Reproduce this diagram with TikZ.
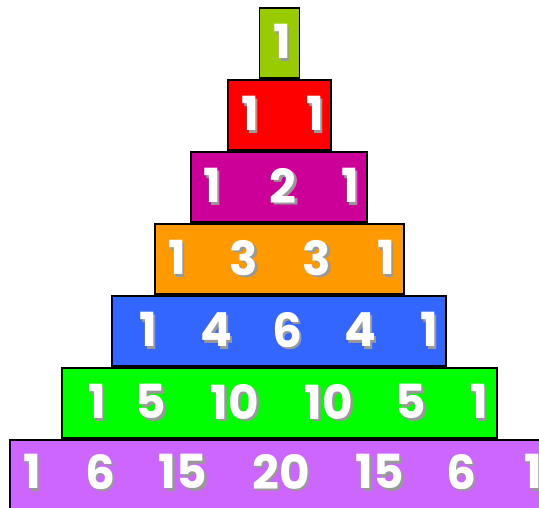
\documentclass[tikz,border=0pt]{standalone}
\usepackage{fontspec}
\setmainfont{Poppins}
\usepackage{xcolor}
\usepackage{tikz}
\definecolor{rowlime}{HTML}{99CC00}
\definecolor{rowred}{HTML}{FF0000}
\definecolor{rowmagenta}{HTML}{CC0099}
\definecolor{roworange}{HTML}{FF9900}
\definecolor{rowblue}{HTML}{3366FF}
\definecolor{rowgreen}{HTML}{00FF00}
\definecolor{rowviolet}{HTML}{CC66FF}
\definecolor{numshadow}{HTML}{999999}
\newcommand{\shadednum}[1]{\makebox[0pt][l]{\hspace{2.5pt}\raisebox{-2.5pt}{\textcolor{numshadow}{#1}}}\textcolor{white}{#1}}

\begin{document}
\begin{tikzpicture}[
  x=1pt,y=-1pt,
  row/.style={draw=black,line width=1.6pt,minimum height=70pt,inner sep=0pt},
  num/.style={font=\fontsize{47}{47}\selectfont\bfseries,inner sep=0pt}
]
\useasboundingbox (0,0) rectangle (539,508);
% rows of the triangle
\node[row,fill=rowlime,minimum width=40pt] (r0) at (279.5,43) {};
\node[row,fill=rowred,minimum width=103pt] (r1) at (279.5,115) {};
\node[row,fill=rowmagenta,minimum width=176pt] (r2) at (279,187) {};
\node[row,fill=roworange,minimum width=249pt] (r3) at (279.5,259) {};
\node[row,fill=rowblue,minimum width=334pt] (r4) at (279,331) {};
\node[row,fill=rowgreen,minimum width=435pt] (r5) at (279.5,403) {};
\node[row,fill=rowviolet,minimum width=540pt] (r6) at (280,475) {};
% row 0
\node[num] (n00) at (282,43) {\shadednum{1}};
% row 1
\node[num] (n10) at (250,115) {\shadednum{1}};
\node[num] (n11) at (315,115) {\shadednum{1}};
% row 2
\node[num] (n20) at (212,187) {\shadednum{1}};
\node[num] (n21) at (283,187) {\shadednum{2}};
\node[num] (n22) at (350,187) {\shadednum{1}};
% row 3
\node[num] (n30) at (177,259) {\shadednum{1}};
\node[num] (n31) at (244,259) {\shadednum{3}};
\node[num] (n32) at (317,259) {\shadednum{3}};
\node[num] (n33) at (386,259) {\shadednum{1}};
% row 4
\node[num] (n40) at (148,331) {\shadednum{1}};
\node[num] (n41) at (216,331) {\shadednum{4}};
\node[num] (n42) at (287,331) {\shadednum{6}};
\node[num] (n43) at (360,331) {\shadednum{4}};
\node[num] (n44) at (429,331) {\shadednum{1}};
% row 5
\node[num] (n50) at (97,403) {\shadednum{1}};
\node[num] (n51) at (151,403) {\shadednum{5}};
\node[num] (n52) at (235,403) {\shadednum{10}};
\node[num] (n53) at (329,403) {\shadednum{10}};
\node[num] (n54) at (411,403) {\shadednum{5}};
\node[num] (n55) at (479,403) {\shadednum{1}};
% row 6
\node[num] (n60) at (32,473) {\shadednum{1}};
\node[num] (n61) at (100,473) {\shadednum{6}};
\node[num] (n62) at (183,473) {\shadednum{15}};
\node[num] (n63) at (281,473) {\shadednum{20}};
\node[num] (n64) at (380,473) {\shadednum{15}};
\node[num] (n65) at (461,473) {\shadednum{6}};
\node[num] (n66) at (533,473) {\shadednum{1}};
\end{tikzpicture}
\end{document}
